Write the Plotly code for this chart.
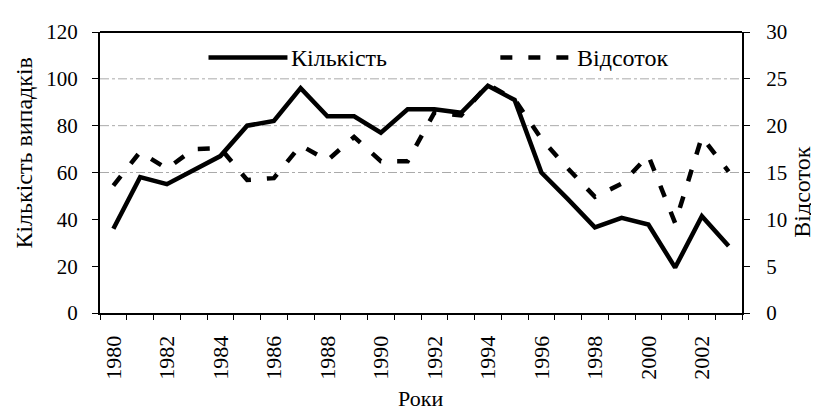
import plotly.graph_objects as go

years = list(range(1980, 2004))
kilkist = [36, 58, 55, 61, 67, 80, 82, 96, 84, 84, 77, 87, 87, 85.5, 97, 91,
           60, 48.5, 36.6, 40.6, 37.8, 19.4, 41.3, 28.6]
vidsotok = [13.6, 17.2, 15.4, 17.5, 17.6, 14.2, 14.4, 17.9, 16.3, 18.8, 16.2, 16.2,
            21.4, 21.1, 24.4, 22.8, 18.6, 15.4, 12.4, 13.8, 16.8, 9.6, 18.8, 15.1]
x_ticks = list(range(1980, 2003, 2))
grid_vals = [60, 80, 100]
series_names = ["Кількість", "Відсоток"]

FONT = "Liberation Serif, Times New Roman, serif"
DASH = "12px,16px"

fig = go.Figure()
fig.add_trace(go.Scatter(x=years, y=kilkist, name=series_names[0], mode="lines",
                         line=dict(color="black", width=4.5), yaxis="y", showlegend=False))
fig.add_trace(go.Scatter(x=years, y=vidsotok, name=series_names[1], mode="lines",
                         line=dict(color="black", width=4.5, dash=DASH), yaxis="y2",
                         showlegend=False))

shapes = []
for g in grid_vals:
    shapes.append(dict(type="line", xref="paper", yref="y", x0=0, x1=1, y0=g, y1=g,
                       line=dict(color="#aaaaaa", width=1, dash="dashdot"), layer="below"))
# top border
shapes.append(dict(type="line", xref="paper", yref="paper", x0=0, x1=1, y0=1, y1=1,
                   line=dict(color="black", width=2)))
# legend samples
LEG_Y = 0.909
shapes.append(dict(type="line", xref="paper", yref="paper", x0=0.169, x1=0.292,
                   y0=LEG_Y, y1=LEG_Y, line=dict(color="black", width=4.5)))
shapes.append(dict(type="line", xref="paper", yref="paper", x0=0.6236, x1=0.735,
                   y0=LEG_Y, y1=LEG_Y, line=dict(color="black", width=4.5, dash=DASH)))

# the page body has an 8px margin, so the figure is sized to end at the window edge
fig.update_layout(
    width=811, height=409,
    margin=dict(l=91.5, r=77.3, t=19, b=104.3),
    paper_bgcolor="white", plot_bgcolor="white",
    font=dict(family=FONT, size=21, color="black"),
    showlegend=False,
    xaxis=dict(range=[1979.5, 2003.5], tickmode="array", tickvals=x_ticks,
               ticktext=[str(v) for v in x_ticks], tickangle=-90, ticks="",
               ticklabelstandoff=12,
               showgrid=False, zeroline=False, showline=True, linecolor="black", linewidth=2,
               minor=dict(tickmode="linear", tick0=1979.5, dtick=1, ticks="outside",
                          ticklen=5, tickcolor="black", showgrid=False),
               tickfont=dict(family=FONT, size=22)),
    yaxis=dict(range=[0, 120], dtick=20, ticks="outside", ticklen=6, tickcolor="black",
               ticklabelstandoff=10,
               showgrid=False, zeroline=False, showline=True, linecolor="black", linewidth=2,
               tickfont=dict(family=FONT, size=21)),
    yaxis2=dict(range=[0, 30], dtick=5, ticks="outside", ticklen=6, tickcolor="black",
                ticklabelstandoff=12,
                overlaying="y", side="right", showgrid=False, zeroline=False,
                showline=True, linecolor="black", linewidth=2,
                tickfont=dict(family=FONT, size=21)),
    shapes=shapes,
    annotations=[
        dict(text=series_names[0], xref="paper", yref="paper", x=0.2951, y=LEG_Y,
             xanchor="left", yanchor="middle", showarrow=False,
             font=dict(family=FONT, size=24)),
        dict(text=series_names[1], xref="paper", yref="paper", x=0.7406, y=LEG_Y,
             xanchor="left", yanchor="middle", showarrow=False,
             font=dict(family=FONT, size=24)),
        dict(text="Кількість випадків", xref="paper", yref="paper", x=-0.1176, y=0.569,
             xanchor="center", yanchor="middle",
             textangle=-90, showarrow=False, font=dict(family=FONT, size=24)),
        dict(text="Відсоток", xref="paper", yref="paper", x=1.0939, y=0.429,
             xanchor="center", yanchor="middle",
             textangle=-90, showarrow=False, font=dict(family=FONT, size=24)),
        dict(text="Роки", xref="paper", yref="paper", x=0.499, y=-0.305,
             xanchor="center", yanchor="middle",
             showarrow=False, font=dict(family=FONT, size=22)),
    ],
)

fig.write_html("out.html")
